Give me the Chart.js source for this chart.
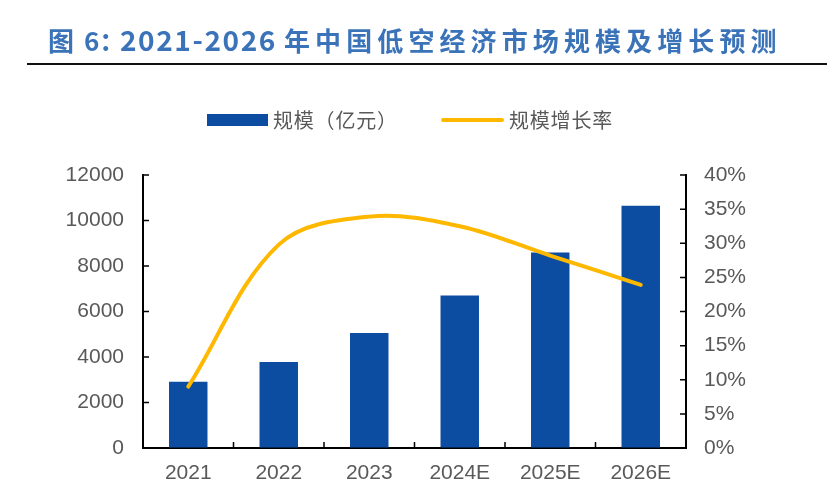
<!DOCTYPE html>
<html>
<head>
<meta charset="utf-8">
<script src="https://cdn.jsdelivr.net/npm/chart.js@4.4.1/dist/chart.umd.min.js"></script>
<style>
  html, body { margin: 0; padding: 0; background: #fff; }
  #wrap { position: relative; width: 831px; height: 492px; overflow: hidden; }
  #c { position: absolute; left: 0; top: 0; }
  #title { position: absolute; left: 48px; top: 26px; width: 780px; height: 30px; font-family: "Noto Sans CJK SC", sans-serif; font-weight: 700; font-size: 26px; line-height: 28px; color: #3B73B9; white-space: nowrap; }
  #title span { position: absolute; top: 0; white-space: pre; }
  #t1 { left: 0; }
  #t2 { left: 36px; }
  #t3 { left: 72px; font-size: 28px; letter-spacing: 1.6px; top: -1px !important; }
  #t4 { left: 225px; letter-spacing: 5.1px; }
  #rule { position: absolute; left: 27px; top: 63px; width: 800px; height: 2px; background: #111; }
  #legend { position: absolute; left: 0; top: 0; width: 831px; height: 492px; pointer-events: none; font-family: "Noto Sans CJK SC", sans-serif; font-size: 20px; letter-spacing: 0.8px; color: #595959; }
  .sw { position: absolute; }
  .lt { position: absolute; line-height: 24px; white-space: nowrap; }
</style>
</head>
<body>
<div id="wrap">
  <canvas id="c" width="831" height="492"></canvas>
  <div id="title"><span id="t1">图 </span><span id="t2">6：</span><span id="t3">2021-2026</span><span id="t4"> 年中国低空经济市场规模及增长预测</span></div>
  <div id="rule"></div>
  <div id="legend"></div>
</div>
<script>
// ---- data ----
const categories = ['2021', '2022', '2023', '2024E', '2025E', '2026E'];
const scaleValues = [2912, 3779, 5059, 6702, 8592, 10645];      // 规模（亿元）
const growthRates = [9.0, 29.8, 33.9, 32.5, 28.2, 23.9];          // 规模增长率 (%)
const leftTicks = [0, 2000, 4000, 6000, 8000, 10000, 12000];
const rightTicks = [0, 5, 10, 15, 20, 25, 30, 35, 40];
const seriesNames = ['规模（亿元）', '规模增长率'];

const BAR_COLOR = '#0C4DA2';
const LINE_COLOR = '#FFB800';
const TICK_COLOR = '#595959';

// inward tick marks plugin
const inwardTicks = {
  id: 'inwardTicks',
  afterDraw(chart) {
    const ctx = chart.ctx;
    const ca = chart.chartArea;
    const len = 6;
    ctx.save();
    ctx.strokeStyle = '#000';
    ctx.lineWidth = 1.5;
    ctx.beginPath();
    const y = chart.scales.y;
    y.ticks.forEach(t => {
      const py = y.getPixelForValue(t.value);
      ctx.moveTo(ca.left, py); ctx.lineTo(ca.left + len, py);
    });
    const y1 = chart.scales.y1;
    y1.ticks.forEach(t => {
      const py = y1.getPixelForValue(t.value);
      ctx.moveTo(ca.right, py); ctx.lineTo(ca.right - len, py);
    });
    const x = chart.scales.x;
    for (let i = 0; i < categories.length - 1; i++) {
      const px = (x.getPixelForValue(i) + x.getPixelForValue(i + 1)) / 2;
      ctx.moveTo(px, ca.bottom); ctx.lineTo(px, ca.bottom - len);
    }
    ctx.stroke();
    ctx.restore();
  }
};

const tickFont = { family: '"Liberation Sans", Arial, sans-serif', size: 21 };

const chart = new Chart(document.getElementById('c'), {
  data: {
    labels: categories,
    datasets: [
      {
        type: 'line',
        label: seriesNames[1],
        data: growthRates,
        yAxisID: 'y1',
        borderColor: LINE_COLOR,
        backgroundColor: LINE_COLOR,
        borderWidth: 4,
        pointRadius: 0,
        tension: 0.35,
        borderCapStyle: 'round',
        order: 0
      },
      {
        type: 'bar',
        label: seriesNames[0],
        data: scaleValues,
        yAxisID: 'y',
        backgroundColor: BAR_COLOR,
        categoryPercentage: 1,
        barPercentage: 0.425,
        order: 1
      }
    ]
  },
  options: {
    responsive: false,
    animation: false,
    devicePixelRatio: 1,
    layout: { padding: { top: 175, left: 0, right: 0, bottom: 0 } },
    plugins: { legend: { display: false }, tooltip: { enabled: false } },
    scales: {
      x: {
        grid: { display: true, drawOnChartArea: false, drawTicks: false },
        border: { display: true, color: '#000', width: 2 },
        ticks: { color: TICK_COLOR, font: tickFont, padding: 13, maxRotation: 0 },
        afterFit(s) { s.height = 44; }
      },
      y: {
        position: 'left',
        min: 0, max: 12000,
        afterBuildTicks(s) { s.ticks = leftTicks.map(v => ({ value: v })); },
        grid: { display: true, drawOnChartArea: false, drawTicks: false },
        border: { display: true, color: '#000', width: 2 },
        ticks: { color: TICK_COLOR, font: tickFont, padding: 19, callback: v => String(v) },
        afterFit(s) { s.width = 143; }
      },
      y1: {
        position: 'right',
        min: 0, max: 40,
        afterBuildTicks(s) { s.ticks = rightTicks.map(v => ({ value: v })); },
        grid: { display: true, drawOnChartArea: false, drawTicks: false },
        border: { display: true, color: '#000', width: 2 },
        ticks: { color: TICK_COLOR, font: tickFont, padding: 18, callback: v => v + '%' },
        afterFit(s) { s.width = 145; }
      }
    }
  },
  plugins: [inwardTicks]
});

// HTML legend built from the chart's datasets
(function buildLegend() {
  const lg = document.getElementById('legend');
  const bar = chart.data.datasets[1];
  const line = chart.data.datasets[0];
  const items = [
    { ds: bar, swLeft: 207, swW: 61, swH: 12, textLeft: 273 },
    { ds: line, swLeft: 441, swW: 63, swH: 4, textLeft: 509 }
  ];
  const cy = 120;
  items.forEach(it => {
    const sw = document.createElement('div');
    sw.className = 'sw';
    sw.style.left = it.swLeft + 'px';
    sw.style.width = it.swW + 'px';
    sw.style.height = it.swH + 'px';
    sw.style.top = (cy - it.swH / 2) + 'px';
    sw.style.background = it.ds.type === 'line' ? it.ds.borderColor : it.ds.backgroundColor;
    if (it.ds.type === 'line') sw.style.borderRadius = '2px';
    lg.appendChild(sw);
    const t = document.createElement('div');
    t.className = 'lt';
    t.style.left = it.textLeft + 'px';
    t.style.top = (cy - 12) + 'px';
    t.textContent = it.ds.label;
    lg.appendChild(t);
  });
})();
</script>
</body>
</html>
